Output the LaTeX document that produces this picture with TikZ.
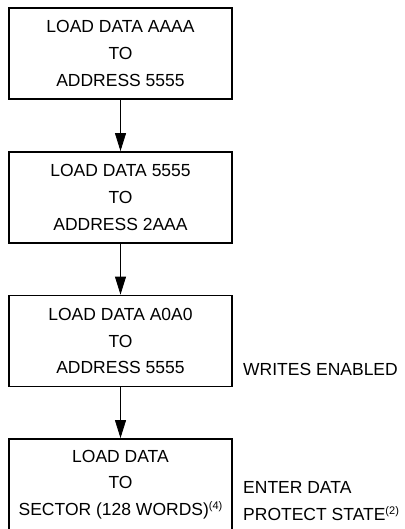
\documentclass[tikz,border=0pt]{standalone}
\usepackage{fontspec}
\setmainfont{Liberation Sans}
\usetikzlibrary{arrows.meta}

\newcommand\flowfont{\fontsize{17.5}{26.7}\selectfont}
\newcommand\fnref[1]{\raisebox{6pt}{\fontsize{11}{11}\selectfont(#1)}}

\begin{document}
\begin{tikzpicture}[x=1pt,y=-1pt,
  block/.style={draw,line width=1.8pt,minimum width=223pt,minimum height=91pt,
    inner sep=0pt,align=center,font=\flowfont},
  flow/.style={line width=0.8pt,-{Triangle[length=18pt,width=11pt]}},
  note/.style={anchor=base west,inner sep=0pt,font=\flowfont}]

\def\width{404}
\def\height{529}
\def\ox{120.5}

\fill [white] (0,0) rectangle (\width,\height);
\path [use as bounding box] (0,0) rectangle (\width,\height);

% BOXES
\node [block] (loadA) at (\ox,53.5) {LOAD DATA AAAA\\TO\\ADDRESS 5555};
\node [block] (load5) at (\ox,197.5) {LOAD DATA 5555\\TO\\ADDRESS 2AAA};
\node [block] (loadA0) at (\ox,341) {LOAD DATA A0A0\\TO\\ADDRESS 5555};
\node [block] (loadsec) at (\ox,484.5) {LOAD DATA\\TO\\SECTOR (128 WORDS)\fnref{4}};

% ARROWS
\draw [flow] (loadA) -- (load5);
\draw [flow] (load5) -- (loadA0);
\draw [flow] (loadA0) -- (loadsec);

% NOTES
\node [note] (wen) at (243,375) {WRITES ENABLED};
\node [note] (enter) at (243,493) {ENTER DATA};
\node [note] (protect) at (243,520.7) {PROTECT STATE\fnref{2}};

\end{tikzpicture}
\end{document}
